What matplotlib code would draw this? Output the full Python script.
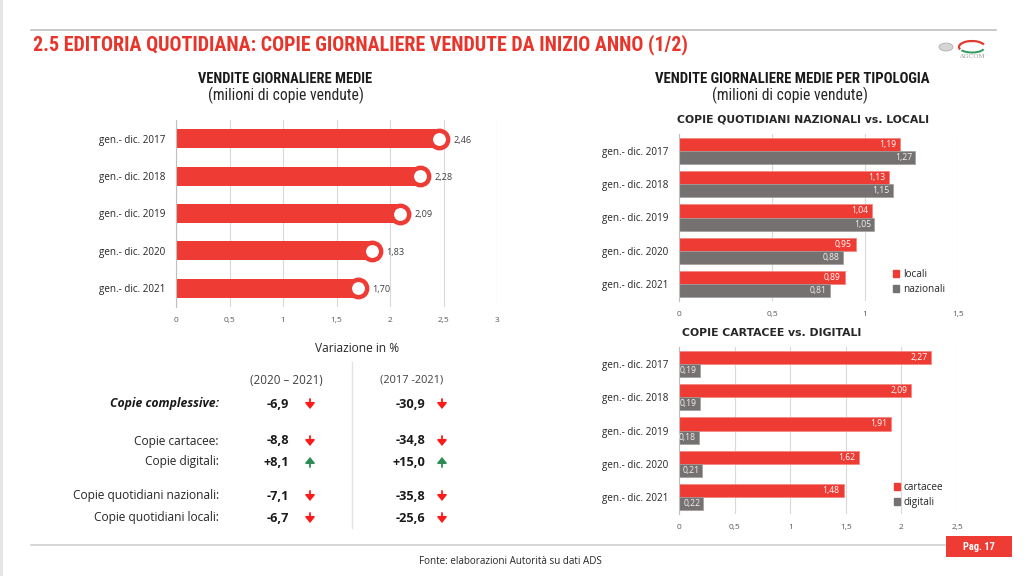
import matplotlib
matplotlib.use("Agg")
import matplotlib.pyplot as plt
from matplotlib import font_manager
from matplotlib.patches import Rectangle, Circle, Arc, Patch, FancyArrowPatch

# ---------------- data ----------------
periods = ['gen.- dic. 2017', 'gen.- dic. 2018', 'gen.- dic. 2019',
           'gen.- dic. 2020', 'gen.- dic. 2021']
totale = [2.46, 2.28, 2.09, 1.83, 1.70]
locali = [1.19, 1.13, 1.04, 0.95, 0.89]
nazionali = [1.27, 1.15, 1.05, 0.88, 0.81]
cartacee = [2.27, 2.09, 1.91, 1.62, 1.48]
digitali = [0.19, 0.19, 0.18, 0.21, 0.22]

left_ticks = [0, 0.5, 1, 1.5, 2, 2.5, 3]
top_ticks = [0, 0.5, 1, 1.5]
bot_ticks = [0, 0.5, 1, 1.5, 2, 2.5]

var_labels = ['Copie complessive:', 'Copie cartacee:', 'Copie digitali:',
              'Copie quotidiani nazionali:', 'Copie quotidiani locali:']
var_2020_2021 = [-6.9, -8.8, 8.1, -7.1, -6.7]
var_2017_2021 = [-30.9, -34.8, 15.0, -35.8, -25.6]

# ---------------- style ----------------
RED = '#EE3B33'
GRAY = '#767171'
TITLE_RED = '#E8352B'
TXT = '#404040'
GRID = '#D9D9D9'

names = {f.name for f in font_manager.fontManager.ttflist}
def pick(*cands):
    for c in cands:
        if c in names:
            return c
    return 'DejaVu Sans'
BODY = pick('Open Sans', 'Noto Sans', 'DejaVu Sans')
COND = pick('Liberation Sans Narrow', 'Roboto Condensed', 'DejaVu Sans')
HEAD = pick('DejaVu Sans')

plt.rcParams['font.family'] = [BODY, 'DejaVu Sans']

W, H = 1024, 576
fig = plt.figure(figsize=(W / 100, H / 100), dpi=100)
fig.patch.set_facecolor('white')

def fx(x):
    return x / W

def fy(y):
    return 1 - y / H

def axes_px(x0, y0, x1, y1):
    return fig.add_axes([fx(x0), fy(y1), (x1 - x0) / W, (y1 - y0) / H])

renderer = fig.canvas.get_renderer()

def fit_text(x, y, s, width_px, size0=10, **kw):
    t = fig.text(fx(x), fy(y), s, fontsize=size0, **kw)
    bb = t.get_window_extent(renderer=renderer)
    if bb.width > 0:
        t.set_fontsize(size0 * width_px / bb.width)
    return t

def fmt(v, nd=2):
    return f'{v:.{nd}f}'.replace('.', ',')

def tick_fmt(v):
    return ('%g' % v).replace('.', ',')

# ---------------- decorations ----------------
fig.add_artist(Rectangle((0, 0), fx(3), 1, transform=fig.transFigure,
                         color='#E6E6E6', lw=0))
fig.add_artist(plt.Line2D([fx(31), fx(996)], [fy(30), fy(30)],
                          color='#BFBFBF', lw=1.2))
fig.add_artist(plt.Line2D([fx(31), fx(945)], [fy(545), fy(545)],
                          color='#D0D0D0', lw=1.2))
fig.add_artist(Rectangle((fx(946), fy(557)), fx(66), 21 / H,
                         transform=fig.transFigure, color=RED, lw=0))
fig.text(fx(979), fy(546.5), 'Pag. 17', fontsize=7.5, color='white',
         fontweight='bold', family=COND, ha='center', va='center')
fit_text(419, 561, 'Fonte: elaborazioni Autorità su dati ADS', 184,
         color='#262626', va='center')

# logo
fig.add_artist(Circle((fx(946), fy(47)), 7 / W, transform=fig.transFigure,
                      facecolor='#D5D5D5', edgecolor='#B0B0B0', lw=0.6))
fig.add_artist(Arc((fx(972), fy(47)), 26 / W, 12 / H, theta1=20, theta2=200,
                   transform=fig.transFigure, color='#E03A30', lw=1.6))
fig.add_artist(Arc((fx(972), fy(48)), 24 / W, 9 / H, theta1=200, theta2=350,
                   transform=fig.transFigure, color='#2E9B5C', lw=1.4))
fig.text(fx(972), fy(57), 'AGCOM', fontsize=4.5, color='#9A9A9A',
         ha='center', va='center', family='DejaVu Serif')

# ---------------- titles ----------------
fit_text(33, 45, '2.5 EDITORIA QUOTIDIANA: COPIE GIORNALIERE VENDUTE DA INIZIO ANNO (1/2)',
         653, family=COND, fontweight='bold', color=TITLE_RED, va='center')
fit_text(198, 79, 'VENDITE GIORNALIERE MEDIE', 173, family=COND,
         fontweight='bold', color='#1A1A1A', va='center')
fit_text(208, 95, '(milioni di copie vendute)', 155, family=COND,
         color='#262626', va='center')
fit_text(655, 79, 'VENDITE GIORNALIERE MEDIE PER TIPOLOGIA', 275, family=COND,
         fontweight='bold', color='#1A1A1A', va='center')
fit_text(712, 95, '(milioni di copie vendute)', 155, family=COND,
         color='#262626', va='center')
fit_text(677, 120, 'COPIE QUOTIDIANI NAZIONALI vs. LOCALI', 255, family=HEAD,
         fontweight='bold', color='#262626', va='center')
fit_text(682, 333, 'COPIE CARTACEE vs. DIGITALI', 181, family=HEAD,
         fontweight='bold', color='#262626', va='center')

def style_axes(ax, ticks, xmax):
    ax.set_xlim(0, xmax)
    ax.set_xticks(ticks)
    ax.set_xticklabels([tick_fmt(t) for t in ticks])
    ax.set_ylim(len(periods) - 0.5, -0.5)
    ax.set_yticks(range(len(periods)))
    ax.set_yticklabels(periods)
    ax.grid(axis='x', color=GRID, lw=0.8)
    ax.set_axisbelow(True)
    for s in ['top', 'right', 'bottom']:
        ax.spines[s].set_visible(False)
    ax.spines['left'].set_color('#BFBFBF')
    ax.tick_params(axis='x', length=0, pad=7, labelsize=6, labelcolor='#595959')
    ax.tick_params(axis='y', length=0, pad=8, labelsize=7.1, labelcolor='#262626')

# ---------------- left chart ----------------
axL = axes_px(176, 120, 497, 307)
ypos = list(range(len(periods)))
axL.barh(ypos, totale, height=0.51, color=RED, zorder=2)
axL.plot(totale, ypos, 'o', ms=12.5, mfc='white', mec=RED, mew=3.2, zorder=3,
         clip_on=False)
for i, v in enumerate(totale):
    axL.annotate(fmt(v), (v, i), xytext=(10.5, -1), textcoords='offset points',
                 va='center', ha='left', fontsize=6.6, color=TXT)
style_axes(axL, left_ticks, 3)

# ---------------- right charts ----------------
def paired(ax, a, b, la, lb, ticks, xmax, leg_xy):
    h = 0.39
    ya = [i - h / 2 for i in ypos]
    yb = [i + h / 2 for i in ypos]
    ax.barh(ya, a, height=h, color=RED, zorder=2, edgecolor='#F3837E', lw=0.5)
    ax.barh(yb, b, height=h, color=GRAY, zorder=2, edgecolor='#A09C9C', lw=0.5)
    for y, v in zip(ya, a):
        ax.annotate(fmt(v), (v, y), xytext=(-3, 0), textcoords='offset points',
                    va='center', ha='right', fontsize=6.2, color='white',
                    zorder=4)
    for y, v in zip(yb, b):
        ax.annotate(fmt(v), (v, y), xytext=(-2.2, 0), textcoords='offset points',
                    va='center', ha='right', fontsize=6.2, color='#F2F2F2',
                    zorder=4)
    style_axes(ax, ticks, xmax)
    handles = [Patch(color=RED), Patch(color=GRAY)]
    ax.legend(handles, [la, lb], loc='upper left', bbox_to_anchor=leg_xy,
              bbox_transform=fig.transFigure, frameon=False, fontsize=7.2,
              handlelength=0.6, handleheight=0.6, handletextpad=0.4,
              labelspacing=0.4, borderpad=0, borderaxespad=0,
              labelcolor='#262626')

axT = axes_px(679, 134, 958, 301)
paired(axT, locali, nazionali, 'locali', 'nazionali', top_ticks, 1.5,
       (fx(893), fy(269)))

axB = axes_px(679, 347, 957, 514)
paired(axB, cartacee, digitali, 'cartacee', 'digitali', bot_ticks, 2.5,
       (fx(894), fy(482)))

# ---------------- variation table ----------------
fit_text(315, 348, 'Variazione in %', 84, color='#262626', va='center')
fig.add_artist(plt.Line2D([fx(352), fx(352)], [fy(362), fy(528)],
                          color='#E3E3E3', lw=1))
fit_text(250, 380, '(2020 – 2021)', 72, color='#404040', va='center')
fit_text(380, 380, '(2017 -2021)', 63, color='#404040', va='center')

row_y = [404, 441, 462, 496, 518]
for k, (lab, v1, v2) in enumerate(zip(var_labels, var_2020_2021, var_2017_2021)):
    y = row_y[k]
    if k == 0:
        fig.text(fx(219), fy(y), lab, fontsize=8.8, color='#1A1A1A', ha='right',
                 va='center', fontweight='bold', fontstyle='italic')
    else:
        fig.text(fx(219), fy(y), lab, fontsize=8.6, color='#262626', ha='right',
                 va='center')
    for v, xr, xa in [(v1, 289, 310), (v2, 425, 442)]:
        s = ('+' if v > 0 else '') + fmt(v, 1)
        fig.text(fx(xr), fy(y), s, fontsize=9.2, color='#1A1A1A', ha='right',
                 va='center', fontweight='bold')
        col = '#2E8B57' if v > 0 else '#FF1A1A'
        if v > 0:
            tail, head = fy(y + 5), fy(y - 5)
        else:
            tail, head = fy(y - 5), fy(y + 5)
        fig.add_artist(FancyArrowPatch(
            (fx(xa), tail), (fx(xa), head), transform=fig.transFigure,
            arrowstyle='-|>,head_width=2.8,head_length=3.4', mutation_scale=1,
            color=col, lw=1.3, shrinkA=0, shrinkB=0))

fig.savefig('out.png', dpi=100, facecolor='white')
